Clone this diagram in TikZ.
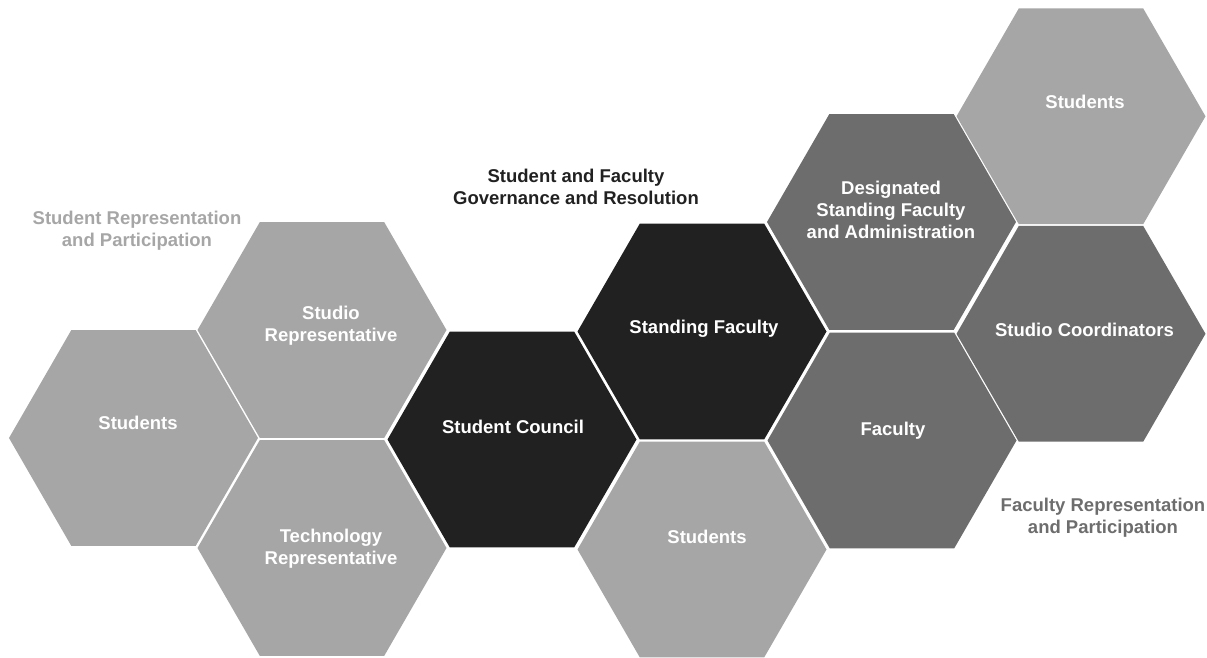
\documentclass[tikz,border=0pt]{standalone}
\usepackage{fontspec}
\setmainfont{Liberation Sans}
\usetikzlibrary{shapes.geometric}
\definecolor{hexlight}{HTML}{A6A6A6}
\definecolor{hexmid}{HTML}{6D6D6D}
\definecolor{hexdark}{HTML}{212121}
\begin{document}
\begin{tikzpicture}[x=1bp,y=-1bp,
  hexcell/.style={regular polygon, regular polygon sides=6, minimum size=249bp,
    inner sep=0pt, outer sep=0pt, draw=none},
  hexlightcell/.style={hexcell, fill=hexlight},
  hexmidcell/.style={hexcell, fill=hexmid},
  hexdarkcell/.style={hexcell, fill=hexdark},
  labelfont/.style={font=\bfseries\fontsize{18.5bp}{22.2bp}\selectfont, align=center, inner sep=0pt},
  celltext/.style={labelfont, text=white},
  grouptext/.style={labelfont},
]
\useasboundingbox (0,0) rectangle (1207,658);

% honeycomb cells
\node[hexlightcell] (hA) at (133.5,438)   {};
\node[hexlightcell] (hB) at (322,330)     {};
\node[hexlightcell] (hC) at (322,548)     {};
\node[hexdarkcell]  (hD) at (512,439.5)   {};
\node[hexdarkcell]  (hE) at (702,331.5)   {};
\node[hexlightcell] (hF) at (702,549.5)   {};
\node[hexmidcell]   (hG) at (891.5,222)   {};
\node[hexmidcell]   (hH) at (892,440.5)   {};
\node[hexlightcell] (hI) at (1081,116.3)  {};
\node[hexmidcell]   (hJ) at (1081,333.8)  {};

% cell captions
\node[celltext, anchor=base] (tA) at (138,429.7)  {Students};
\node[celltext] (tB) at (331,325.9) {Studio\\Representative};
\node[celltext] (tC) at (331,548.4) {Technology\\Representative};
\node[celltext, anchor=base] (tD) at (513,433.6)  {Student Council};
\node[celltext, anchor=base] (tE) at (704,333.3)  {Standing Faculty};
\node[celltext, anchor=base] (tF) at (707,543.6)  {Students};
\node[celltext] (tG) at (891,210) {Designated\\Standing Faculty\\and Administration};
\node[celltext, anchor=base] (tH) at (893,435)    {Faculty};
\node[celltext, anchor=base] (tI) at (1085,109)   {Students};
\node[celltext, anchor=base] (tJ) at (1084.5,336.6) {Studio Coordinators};

% group headings
\node[grouptext, text=hexlight] (gS) at (137,230.9) {Student Representation\\and Participation};
\node[grouptext, text=hexdark]  (gG) at (576,186.9) {Student and Faculty\\Governance and Resolution};
\node[grouptext, text=hexmid]   (gF) at (1103,517.8) {Faculty Representation\\and Participation};
\end{tikzpicture}
\end{document}
